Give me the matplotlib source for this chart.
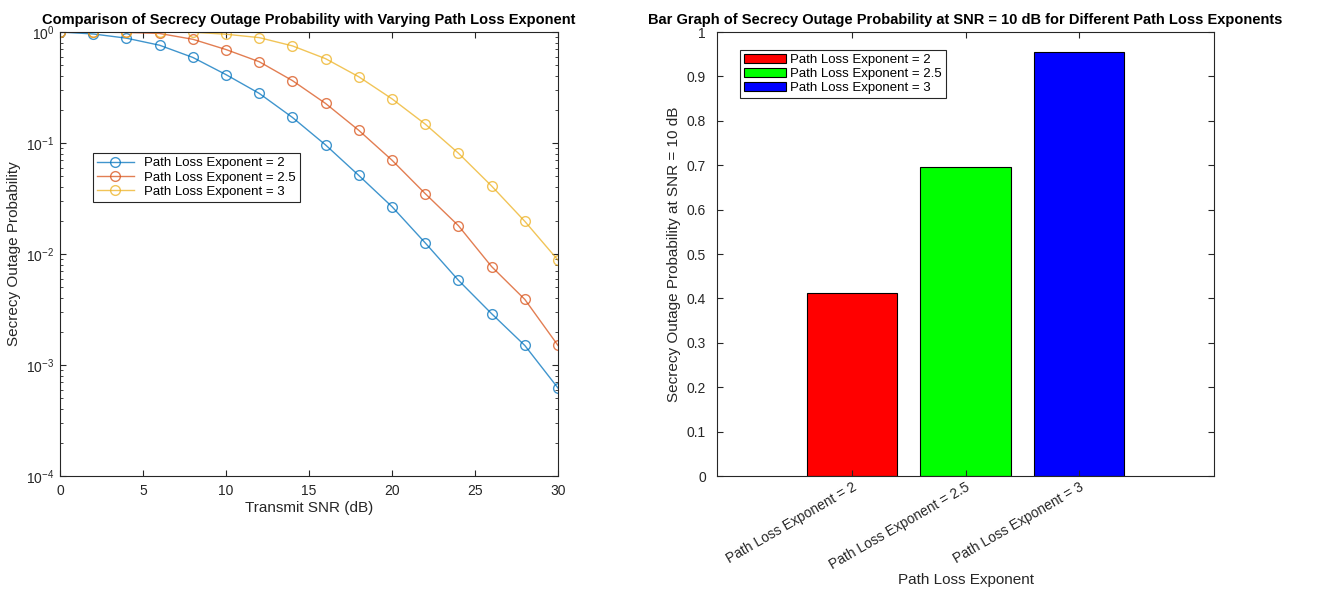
import numpy as np
import matplotlib.pyplot as plt
from matplotlib.ticker import LogLocator, NullFormatter

plt.rcParams['font.family'] = ['Liberation Sans', 'DejaVu Sans']

# data
snr_db = [0, 2, 4, 6, 8, 10, 12, 14, 16, 18, 20, 22, 24, 26, 28, 30]
sop_2 = [1.0, 0.96, 0.88, 0.76, 0.59, 0.413, 0.28, 0.17, 0.096, 0.051, 0.0267,
         0.0126, 0.0058, 0.0029, 0.0015, 0.00062]
sop_25 = [1.0, 0.998, 0.99, 0.97, 0.86, 0.695, 0.54, 0.365, 0.227, 0.13, 0.07,
          0.035, 0.018, 0.0077, 0.0039, 0.0015]
sop_3 = [1.0, 1.0, 1.0, 1.0, 0.995, 0.955, 0.89, 0.75, 0.575, 0.395, 0.25,
         0.148, 0.081, 0.041, 0.0197, 0.0088]
labels = ['Path Loss Exponent = 2', 'Path Loss Exponent = 2.5', 'Path Loss Exponent = 3']
bar_vals = [0.413, 0.695, 0.955]

W, H = 1327, 592
fig = plt.figure(figsize=(W/100, H/100), dpi=100)
tc = '#262626'

def px(l, t, r, b):
  return [l/W, (H-b)/H, (r-l)/W, (b-t)/H]

def style(ax):
  ax.tick_params(which='both', direction='in', top=True, right=True, colors=tc, labelsize=10)
  ax.tick_params(which='major', length=4, pad=6)
  ax.tick_params(which='minor', length=2)
  for s in ax.spines.values():
    s.set_color(tc)
    s.set_linewidth(0.8)

# left: line plot
ax1 = fig.add_axes(px(60, 32, 558, 476))
cols = ['#0072BD', '#D95319', '#EDB120']
for y, c, lab in zip([sop_2, sop_25, sop_3], cols, labels):
  ax1.semilogy(snr_db, y, '-o', color=c, mfc='none', ms=7, lw=1, alpha=0.75, label=lab)
ax1.set_xlim(0, 30)
ax1.set_ylim(1e-4, 1)
ax1.set_xticks([0, 5, 10, 15, 20, 25, 30])
ax1.yaxis.set_minor_locator(LogLocator(base=10, subs=np.arange(2, 10)))
ax1.yaxis.set_minor_formatter(NullFormatter())
style(ax1)
ax1.tick_params(axis='y', which='major', pad=4)
ax1.set_xlabel('Transmit SNR (dB)', fontsize=11, color=tc, labelpad=2)
ax1.set_ylabel('Secrecy Outage Probability', fontsize=11, color=tc)
ax1.set_title('Comparison of Secrecy Outage Probability with Varying Path Loss Exponent',
              fontsize=10.5, fontweight='bold', pad=6)
leg = ax1.legend(loc='upper left', bbox_to_anchor=(0.066, 0.727), fontsize=9.5,
                 fancybox=False, framealpha=1, edgecolor='#262626',
                 borderpad=0.3, labelspacing=0.15, handlelength=2.8, borderaxespad=0)
leg.get_frame().set_linewidth(0.8)

# right: bar graph
ax2 = fig.add_axes(px(717, 32, 1214, 476))
xpos = np.arange(1, len(bar_vals) + 1)
bcols = ['#FF0000', '#00FF00', '#0000FF']
for x, v, c, lab in zip(xpos, bar_vals, bcols, labels):
  ax2.bar(x, v, width=0.8, color=c, edgecolor='black', linewidth=0.8, label=lab)
ax2.set_xlim(-0.19, 4.19)
ax2.set_ylim(0, 1)
ax2.set_yticks(np.arange(0, 1.01, 0.1))
ax2.set_yticklabels(['0', '0.1', '0.2', '0.3', '0.4', '0.5', '0.6', '0.7', '0.8', '0.9', '1'])
ax2.set_xticks(xpos)
ax2.set_xticklabels(labels, rotation=30, ha='right', rotation_mode='anchor')
style(ax2)
ax2.tick_params(axis='y', which='major', pad=8)
ax2.tick_params(axis='x', which='major', pad=3)
ax2.set_xlabel('Path Loss Exponent', fontsize=11, color=tc, labelpad=1)
ax2.set_ylabel('Secrecy Outage Probability at SNR = 10 dB', fontsize=11, color=tc)
ax2.set_title('Bar Graph of Secrecy Outage Probability at SNR = 10 dB for Different Path Loss Exponents',
              fontsize=10.5, fontweight='bold', pad=6)
leg2 = ax2.legend(loc='upper left', bbox_to_anchor=(0.046, 0.96), fontsize=9.5,
                  fancybox=False, framealpha=1, edgecolor='#262626',
                  borderpad=0.3, labelspacing=0.15, handlelength=3.2, handletextpad=0.3,
                  borderaxespad=0)
leg2.get_frame().set_linewidth(0.8)

fig.savefig('out.png', dpi=100)
